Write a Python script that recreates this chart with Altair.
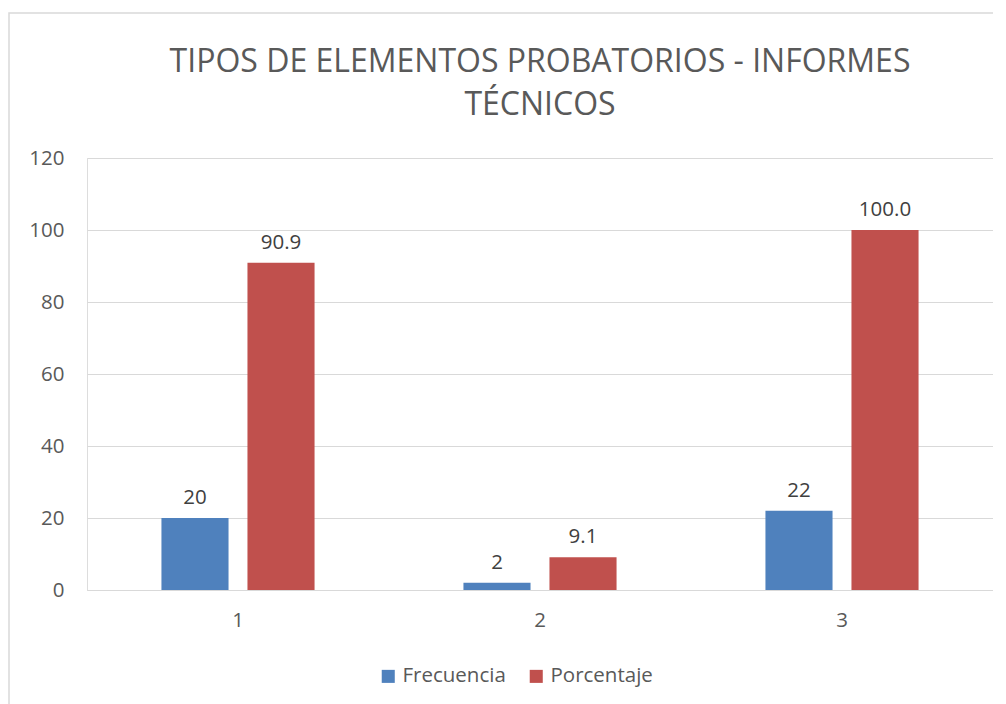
import altair as alt
import pandas as pd

categories = ["1", "2", "3"]
frecuencia = [20, 2, 22]
porcentaje = [90.9, 9.1, 100.0]
series = ["Frecuencia", "Porcentaje"]
colors = ["#4F81BD", "#C0504D"]

rows = []
for c, f, p in zip(categories, frecuencia, porcentaje):
    rows.append({"cat": c, "serie": "Frecuencia", "valor": f, "label": f"{f:d}"})
    rows.append({"cat": c, "serie": "Porcentaje", "valor": p, "label": f"{p:.1f}"})
df = pd.DataFrame(rows)

FONT = "Open Sans"
FS = 20.5

x = alt.X("cat:N", sort=categories, title=None,
          scale=alt.Scale(paddingInner=0.493, paddingOuter=0.2465),
          axis=alt.Axis(labelAngle=0, labelFontSize=FS, labelColor="#595959", labelFont=FONT,
                        labelPadding=20, ticks=False, domainColor="#d9d9d9", domainWidth=1))
xo = alt.XOffset("serie:N", sort=series, scale=alt.Scale(paddingInner=0.22, paddingOuter=0))
y = alt.Y("valor:Q", title=None,
          scale=alt.Scale(domain=[0, 120], nice=False),
          axis=alt.Axis(values=[0, 20, 40, 60, 80, 100, 120], labelFontSize=FS, labelColor="#595959",
                        labelFont=FONT, labelPadding=23, ticks=False, domain=False,
                        gridColor="#d9d9d9", gridWidth=1))
color = alt.Color("serie:N", sort=series,
                  scale=alt.Scale(domain=series, range=colors),
                  legend=alt.Legend(title=None, orient="none", direction="horizontal",
                                    legendX=291, legendY=508, symbolType="square", symbolSize=170,
                                    symbolStrokeWidth=0, labelFontSize=FS, labelColor="#595959",
                                    labelFont=FONT, columnPadding=20, labelOffset=4))

bars = alt.Chart(df).mark_bar().encode(x=x, xOffset=xo, y=y, color=color)
labels = alt.Chart(df).mark_text(baseline="bottom", dy=-10, fontSize=FS, font=FONT,
                                 color="#404040").encode(x=x, xOffset=xo, y=y, text="label:N")

frame = alt.Chart(pd.DataFrame({"a": [0]})).mark_rect(fill=None, stroke="#d9d9d9", strokeWidth=1.5,
                                                       clip=False).encode(
    x=alt.value(-78), x2=alt.value(940), y=alt.value(-145), y2=alt.value(620))

chart = alt.layer(frame, bars, labels).properties(
    width=906, height=432,
    title=alt.Title(["TIPOS DE ELEMENTOS PROBATORIOS - INFORMES", "TÉCNICOS"],
                    fontSize=32, font=FONT, fontWeight="normal", color="#595959",
                    lineHeight=43, anchor="middle", frame="group", offset=-110),
    autosize=alt.AutoSizeParams(type="none"),
    padding={"left": 79, "top": 150, "right": 0, "bottom": 116},
).configure_view(stroke=None).configure(background="white")

chart.save("out.html", embed_options={"renderer": "svg", "actions": False})
